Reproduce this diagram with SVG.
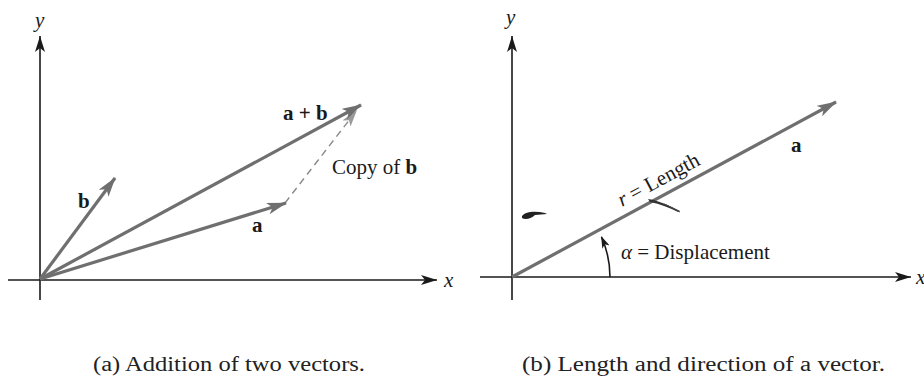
<svg xmlns="http://www.w3.org/2000/svg" width="924" height="376" viewBox="0 0 924 376">
<style>
.axis{stroke:#1a1a1a;stroke-width:1.6;fill:none}
.vec{stroke:#6f6f6f;stroke-width:3.2;fill:none}
.dash{stroke:#8a8a8a;stroke-width:1.4;stroke-dasharray:7,5;fill:none}
.lbl{font-family:"Liberation Serif","Times New Roman",serif;font-size:21px;fill:#1a1a1a}
.bold{font-weight:bold}
.ital{font-style:italic}
.cap{font-family:"Liberation Serif","Times New Roman",serif;font-size:20px;fill:#222}
</style>
<defs>
<marker id="axArrow" markerUnits="userSpaceOnUse" markerWidth="18" markerHeight="12" refX="16" refY="5" orient="auto">
<path d="M0,0 L16,5 L0,10 L4,5 z" fill="#1a1a1a"/>
</marker>
<marker id="vecArrow" markerUnits="userSpaceOnUse" markerWidth="22" markerHeight="14" refX="19" refY="6" orient="auto">
<path d="M0,0 L20,6 L0,12 L5,6 z" fill="#6f6f6f"/>
</marker>
<marker id="dashArrow" markerUnits="userSpaceOnUse" markerWidth="20" markerHeight="14" refX="17" refY="5" orient="auto">
<path d="M0,0 L17,5 L0,10 L4,5 z" fill="#9a9a9a"/>
</marker>
<marker id="arcArrow" markerUnits="userSpaceOnUse" markerWidth="14" markerHeight="10" refX="11" refY="4" orient="auto">
<path d="M0,0 L12,4 L0,8 L3,4 z" fill="#1a1a1a"/>
</marker>
</defs>

<g id="connectors">
<!-- panel (a) axes -->
<line class="axis" x1="8" y1="280" x2="437" y2="280" marker-end="url(#axArrow)"/>
<line class="axis" x1="40" y1="300" x2="40" y2="36" marker-end="url(#axArrow)"/>
<!-- panel (a) vectors -->
<line class="dash" x1="285" y1="203" x2="357" y2="110" marker-end="url(#dashArrow)"/>
<line class="vec" x1="40" y1="279" x2="115" y2="178" marker-end="url(#vecArrow)"/>
<line class="vec" x1="40" y1="279" x2="286" y2="203" marker-end="url(#vecArrow)"/>
<line class="vec" x1="40" y1="279" x2="361" y2="105" marker-end="url(#vecArrow)"/>
<!-- panel (b) axes -->
<line class="axis" x1="480" y1="277" x2="911" y2="277" marker-end="url(#axArrow)"/>
<line class="axis" x1="512" y1="300" x2="512" y2="36" marker-end="url(#axArrow)"/>
<!-- panel (b) vector -->
<line class="vec" x1="512" y1="277" x2="836" y2="102" marker-end="url(#vecArrow)"/>
<!-- angle arc -->
<path class="axis" d="M610,277 A98,98 0 0 0 601.5,237" marker-end="url(#arcArrow)"/>
</g>

<g id="panel-a-labels">
<text class="lbl ital" x="35" y="27">y</text>
<text class="lbl ital" x="444" y="287">x</text>
<text class="lbl bold" x="78" y="208">b</text>
<text class="lbl bold" x="252" y="232">a</text>
<text class="lbl bold" x="283" y="120">a + b</text>
<text class="lbl" x="332" y="174">Copy of <tspan class="bold">b</tspan></text>
</g>

<g id="panel-b-labels">
<text class="lbl ital" x="506" y="24">y</text>
<text class="lbl ital" x="916" y="284">x</text>
<text class="lbl bold" x="791" y="152">a</text>
<text class="lbl" transform="translate(622,207) rotate(-28.3)"><tspan class="ital">r</tspan> = Length</text>
<text class="lbl" x="621" y="259"><tspan class="ital">α</tspan> = Displacement</text>
</g>

<g id="smudges">
<path d="M522,216 C526,211 536,211 545,213 L547,214 L535,215 C531,219 525,220 522,218 Z" fill="#222"/>
<path d="M648,199 C655,200 664,203 672,207 L680,211 L678,212 C670,208 660,204 650,202 Z" fill="#333"/>
<path d="M664,204 C669,206 674,209 680,212" stroke="#444" stroke-width="1" fill="none"/>
</g>

<g id="captions">
<text class="cap" x="93" y="371" textLength="272" lengthAdjust="spacingAndGlyphs">(a) Addition of two vectors.</text>
<text class="cap" x="522" y="371" textLength="363" lengthAdjust="spacingAndGlyphs">(b) Length and direction of a vector.</text>
</g>
</svg>
